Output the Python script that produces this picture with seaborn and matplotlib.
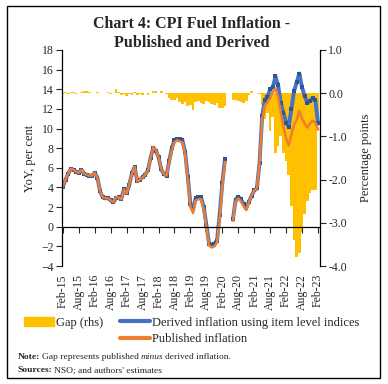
import matplotlib
matplotlib.use("Agg")
import matplotlib.pyplot as plt
from matplotlib.patches import Patch, Rectangle
from matplotlib.lines import Line2D
import numpy as np
import pandas as pd
import seaborn as sns

nan = np.nan

# monthly, Feb-15 .. Feb-23 (Apr-20 and May-20 not available)
months = pd.date_range("2015-02-01", periods=97, freq="MS")

published = [4.1, 4.8, 5.4, 5.9, 5.8, 5.6, 5.5, 5.8, 5.4, 5.3,
             5.2, 5.2, 5.5, 5.0, 3.6, 3.0, 2.9, 2.9, 2.7, 2.5,
             3.0, 3.0, 2.8, 3.8, 3.4, 4.3, 5.4, 6.1, 4.6, 4.8,
             5.0, 5.3, 5.7, 7.0, 8.1, 7.8, 7.1, 5.9, 5.4, 5.2,
             6.6, 7.8, 8.6, 8.8, 8.7, 8.6, 7.4, 4.8, 2.0, 1.4,
             2.7, 2.8, 2.8, 1.8, 0.0, -1.9, -2.1, -2.0, -1.6, 0.9,
             4.1, 6.6, nan, nan, 0.6, 2.6, 2.9, 2.6, 2.1, 1.7,
             2.5, 3.2, 3.7, 3.9, 6.5, 11.0, 12.3, 12.7, 13.1, 13.7,
             14.1, 13.2, 11.6, 10.2, 9.0, 8.3, 9.4, 10.4, 10.9, 11.8,
             11.0, 10.5, 10.1, 10.5, 10.8, 10.6, 9.9]

derived = [4.1, 4.8, 5.4, 5.9, 5.8, 5.6, 5.5, 5.8, 5.4, 5.3,
           5.2, 5.2, 5.5, 5.0, 3.6, 3.0, 2.9, 2.9, 2.7, 2.5,
           2.9, 3.0, 2.85, 3.85, 3.45, 4.3, 5.45, 6.1, 4.65, 4.8,
           5.05, 5.3, 5.75, 7.0, 8.05, 7.75, 7.1, 5.85, 5.4, 5.2,
           6.7, 8.0, 8.8, 8.9, 8.9, 8.8, 7.6, 5.1, 2.3, 1.8,
           2.9, 3.0, 3.0, 2.0, 0.2, -1.7, -1.85, -1.7, -1.4, 1.25,
           4.45, 6.9, nan, nan, 0.75, 2.75, 3.05, 2.8, 2.3, 1.9,
           2.55, 3.15, 3.7, 3.9, 6.5, 11.3, 12.9, 13.2, 14.0, 14.2,
           15.3, 14.4, 12.6, 11.6, 10.6, 10.2, 12.0, 13.8, 14.7, 15.6,
           14.2, 13.3, 12.6, 12.8, 13.1, 12.9, 10.6]

gap = [-0.02, 0.02, -0.01, 0.02, 0.03, -0.02, 0.01, 0.03, 0.05, 0.04,
       0.02, 0.01, 0.0, 0.02, 0.01, 0.0, 0.01, 0.02, -0.01, 0.0,
       0.1, 0.02, -0.05, -0.03, -0.06, -0.02, -0.04, 0.02, -0.05, -0.02,
       -0.04, 0.01, -0.05, 0.0, 0.05, 0.05, 0.01, 0.05, 0.0, -0.02,
       -0.12, -0.15, -0.16, -0.12, -0.2, -0.24, -0.2, -0.3, -0.27, -0.38,
       -0.2, -0.19, -0.22, -0.24, -0.19, -0.2, -0.25, -0.27, -0.22, -0.35,
       -0.35, -0.3, nan, nan, -0.15, -0.15, -0.17, -0.2, -0.22, -0.18,
       -0.05, 0.04, 0.0, 0.0, -0.02, -0.27, -0.6, -0.46, -0.88, -0.54,
       -1.38, -1.23, -1.0, -1.38, -1.58, -1.9, -2.6, -3.4, -3.8, -3.7,
       -3.2, -2.8, -2.5, -2.3, -2.25, -2.25, -0.75]

df = pd.DataFrame({"t": np.arange(len(months)), "published": published,
                   "derived": derived, "gap": gap})
df["seg"] = np.where(df["t"] < 62, 0, 1)
lines = df.dropna(subset=["published"])

gold = "#FFC000"
blue = "#4472C4"
orange = "#ED7D31"
serif = "Liberation Serif"

sns.set_style("white")
plt.rcParams["font.family"] = [serif, "DejaVu Serif"]

fig = plt.figure(figsize=(3.88, 3.84), dpi=100)
ax = fig.add_axes([0.160, 0.307, 0.665, 0.563])
ax2 = ax.twinx()

sns.barplot(data=df, x="t", y="gap", native_scale=True, width=1.0, color=gold,
            errorbar=None, ax=ax2, saturation=1, linewidth=0)
sns.lineplot(data=lines, x="t", y="derived", units="seg", estimator=None,
             color=blue, linewidth=2.8, marker="s", markersize=2.8,
             markeredgewidth=0, markerfacecolor="#2F5597", ax=ax)
sns.lineplot(data=lines, x="t", y="published", units="seg", estimator=None,
             color=orange, linewidth=1.8, ax=ax)

ax.set_zorder(ax2.get_zorder() + 1)
ax.patch.set_visible(False)

ax.set_xlim(-0.3, 96.8)
ax.set_ylim(-4, 18)
ax.set_yticks(range(-4, 19, 2))
ax2.set_ylim(-4, 1)
ax2.set_yticks(range(-4, 2))
ax2.set_yticklabels([f"{v:.1f}" for v in range(-4, 2)])

tick_pos = list(range(0, 97, 6))
ax.set_xticks(tick_pos)
ax.set_xticklabels([months[i].strftime("%b-%y") for i in tick_pos])

ax.spines["top"].set_visible(False)
ax2.spines["top"].set_visible(False)
ax2.spines["bottom"].set_visible(False)
ax2.spines["left"].set_visible(False)
ax.spines["right"].set_visible(False)
ax.spines["bottom"].set_position(("data", 0))
for a in (ax, ax2):
    for s in a.spines.values():
        s.set_color("black")
        s.set_linewidth(0.9)

ax.tick_params(axis="y", direction="out", length=4, width=0.8, labelsize=8.5,
               left=True, pad=2)
ax.tick_params(axis="x", direction="out", length=4, width=0.8, labelsize=8.5,
               bottom=True, pad=30, labelrotation=90)
ax2.tick_params(axis="y", direction="out", length=4, width=0.8, labelsize=8.5,
                right=True, pad=2)
ax.set_xlabel("")
ax.set_ylabel("YoY, per cent", fontsize=9, labelpad=4)
ax2.set_ylabel("Percentage points", fontsize=9, labelpad=9)

fig.text(0.495, 0.958, "Chart 4: CPI Fuel Inflation -\nPublished and Derived",
         ha="center", va="top", fontsize=11.5, fontweight="bold",
         linespacing=1.2)

handles = [Patch(color=gold), Line2D([], [], alpha=0),
           Line2D([], [], color=blue, linewidth=3),
           Line2D([], [], color=orange, linewidth=3)]
labels = ["Gap (rhs)", "", "Derived inflation using item level indices",
          "Published inflation"]
fig.legend(handles, labels, ncol=2, loc="upper left",
           bbox_to_anchor=(0.047, 0.192), frameon=False, fontsize=9,
           handlelength=2.4, handletextpad=0.15, columnspacing=1.3,
           labelspacing=0.38, borderpad=0)

# note lines, pieces placed one after another
renderer = fig.canvas.get_renderer()


def put_line(y, pieces):
    x = 0.045
    for txt, kw, space in pieces:
        t = fig.text(x, y, txt, fontsize=6.8, **kw)
        bb = t.get_window_extent(renderer=renderer)
        x += (bb.width + space) / fig.bbox.width


put_line(0.065, [("Note:", {"fontweight": "bold"}, 2),
                 ("Gap represents published", {}, 2),
                 ("minus", {"style": "italic"}, 2),
                 ("derived inflation.", {}, 0)])
put_line(0.03, [("Sources:", {"fontweight": "bold"}, 2),
                ("NSO; and authors' estimates", {}, 0)])

fig.add_artist(Rectangle((0.018, 0.015), 0.962, 0.97, transform=fig.transFigure,
                         fill=False, edgecolor="black", linewidth=1.0))

fig.savefig("out.png", dpi=100)
